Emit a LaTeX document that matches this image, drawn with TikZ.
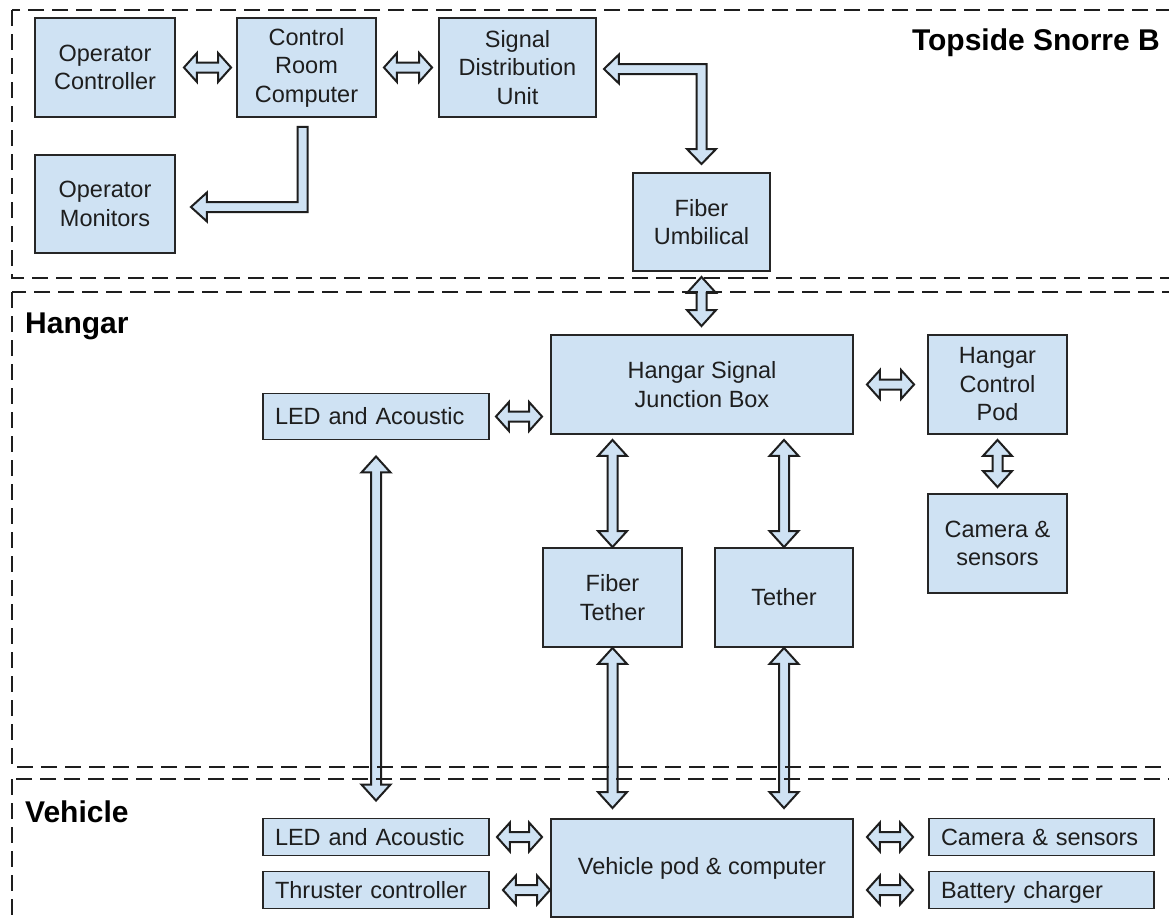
\documentclass[tikz,border=0pt]{standalone}
\usepackage{fontspec}
\setmainfont{Liberation Sans}
\usetikzlibrary{calc}
\definecolor{boxfill}{HTML}{CFE2F3}
\definecolor{ink}{HTML}{1E1E1E}
\definecolor{edge}{HTML}{262626}

\tikzset{
  box/.style={draw=edge, line width=1.9pt, fill=boxfill, align=center, text=ink,
    font=\fontsize{23.5}{28.5}\selectfont, inner sep=2pt},
  bigbox/.style={box, minimum width=#1, minimum height=99pt},
  slim/.style={box, text width=#1-24pt, inner xsep=12pt, align=left, minimum height=37pt,
    text height=18pt, text depth=1.5pt},
  region/.style={draw=ink, line width=2pt, dash pattern=on 16pt off 8pt},
  zone/.style={font=\bfseries\fontsize{30}{34}\selectfont, text=black, inner sep=0pt},
  blockarrow/.style={draw=ink, line width=2pt, fill=boxfill, line join=miter},
}

% horizontal double block arrow between a left tip and a right tip on one level
\newcommand\harrow[2]{%
  \coordinate (ta) at #1; \coordinate (tb) at #2;
  \filldraw[blockarrow] (ta) -- ($(ta)+(13,-14.5)$) -- ($(ta)+(13,-5)$)
    -- ($(tb)+(-13,-5)$) -- ($(tb)+(-13,-14.5)$) -- (tb)
    -- ($(tb)+(-13,14.5)$) -- ($(tb)+(-13,5)$) -- ($(ta)+(13,5)$)
    -- ($(ta)+(13,14.5)$) -- cycle;}
% vertical double block arrow between an upper tip and a lower tip
\newcommand\varrow[2]{%
  \coordinate (ta) at #1; \coordinate (tb) at #2;
  \filldraw[blockarrow] (ta) -- ($(ta)+(14.5,16)$) -- ($(ta)+(5,16)$)
    -- ($(tb)+(5,-16)$) -- ($(tb)+(14.5,-16)$) -- (tb)
    -- ($(tb)+(-14.5,-16)$) -- ($(tb)+(-5,-16)$) -- ($(ta)+(-5,16)$)
    -- ($(ta)+(-14.5,16)$) -- cycle;}

\begin{document}
\begin{tikzpicture}[x=1pt, y=-1pt]
\useasboundingbox (0,0) rectangle (1169,921);
\fill[white] (0,0) rectangle (1169,921);
\clip (0,0) rectangle (1169,921);

% ---------- topside ----------
\node[zone, anchor=base east] (topside) at (1160,50) {Topside Snorre B};
\node[bigbox=140pt] (oc)  at (105,67.5)   {Operator\\Controller};
\node[bigbox=139pt] (crc) at (306.5,67.5) {Control\\Room\\Computer};
\node[bigbox=157pt] (sdu) at (517.5,67.5) {Signal\\Distribution\\Unit};
\node[box, minimum width=140pt, minimum height=98pt] (om) at (105,204) {Operator\\Monitors};
\node[box, minimum width=137pt, minimum height=98pt] (fu) at (701.5,222) {Fiber\\Umbilical};

% ---------- hangar ----------
\node[zone, anchor=base west] (hangar) at (25,333) {Hangar};
\node[bigbox=302pt] (hsjb) at (702,384.5) {Hangar Signal\\Junction Box};
\node[bigbox=139pt] (hcp)  at (997.5,384.5) {Hangar\\Control\\Pod};
\node[bigbox=139pt] (hcam) at (997.5,543.5) {Camera \&\\sensors};
\node[slim=226pt, minimum height=46pt] (hled) at (376,416.5) {LED and Acoustic};
\node[bigbox=139pt] (ft)   at (612.5,597.5) {Fiber\\Tether};
\node[bigbox=138pt] (teth) at (784,597.5) {Tether};

% ---------- vehicle ----------
\node[zone, anchor=base west] (vehicle) at (25,822) {Vehicle};
\node[box, minimum width=302pt, minimum height=98pt] (vp) at (702,868) {Vehicle pod \& computer};
\node[slim=226pt] (vled) at (376,837)    {LED and Acoustic};
\node[slim=226pt] (thr)  at (376,890)    {Thruster controller};
\node[slim=225pt] (vcam) at (1041.5,837) {Camera \& sensors};
\node[slim=225pt] (bat)  at (1041.5,890) {Battery charger};

% ---------- block arrows ----------
\harrow{($(oc.east)+(8,0)$)}{($(crc.west)+(-5,0)$)}
\harrow{($(crc.east)+(7,0)$)}{($(sdu.west)+(-6,0)$)}

% control room computer down and across to the monitors
\coordinate (c1) at ($(crc.south)+(-4,9)$);
\coordinate (c3) at ($(om.east)+(15,3)$);
\coordinate (c2) at (c1 |- c3);
\filldraw[blockarrow] ($(c1)+(-5,0)$) -- ($(c1)+(5,0)$) -- ($(c2)+(5,5)$)
  -- ($(c3)+(16,5)$) -- ($(c3)+(16,14.5)$) -- (c3) -- ($(c3)+(16,-14.5)$)
  -- ($(c3)+(16,-5)$) -- ($(c2)+(-5,-5)$) -- cycle;

% signal distribution unit across and down to the umbilical
\coordinate (s1) at ($(sdu.east)+(7,1.5)$);
\coordinate (s3) at ($(fu.north)+(0,-8)$);
\coordinate (s2) at (s1 -| s3);
\filldraw[blockarrow] (s1) -- ($(s1)+(15,-14.5)$) -- ($(s1)+(15,-5)$)
  -- ($(s2)+(5,-5)$) -- ($(s3)+(5,-15)$) -- ($(s3)+(14.5,-15)$) -- (s3)
  -- ($(s3)+(-14.5,-15)$) -- ($(s3)+(-5,-15)$) -- ($(s2)+(-5,5)$)
  -- ($(s1)+(15,5)$) -- ($(s1)+(15,14.5)$) -- cycle;

\varrow{($(fu.south)+(0,5)$)}{($(hsjb.north -| fu.south)+(0,-8)$)}
\harrow{($(hled.east)+(6,0)$)}{($(hled.east -| hsjb.west)+(-8,0)$)}
\harrow{($(hsjb.east)+(13,0)$)}{($(hcp.west)+(-13,0)$)}
\varrow{($(hcp.south)+(0,5)$)}{($(hcam.north)+(0,-6)$)}
\varrow{($(hsjb.south -| ft.north)+(0,5)$)}{(ft.north)}
\varrow{($(hsjb.south -| teth.north)+(0,5)$)}{(teth.north)}
\varrow{(ft.south)}{($(vp.north -| ft.south)+(0,-10)$)}
\varrow{(teth.south)}{($(vp.north -| teth.south)+(0,-10)$)}
\varrow{($(hled.south)+(0,16)$)}{($(vled.north)+(0,-17)$)}

\harrow{($(vled.east)+(7,0)$)}{($(vled.east -| vp.west)+(-8,0)$)}
\harrow{($(thr.east)+(13,0)$)}{(thr.east -| vp.west)}
\harrow{($(vcam.west -| vp.east)+(13,0)$)}{($(vcam.west)+(-15,0)$)}
\harrow{($(bat.west -| vp.east)+(13,0)$)}{($(bat.west)+(-15,0)$)}

% ---------- dashed zones ----------
\draw[region] (12,10) rectangle (1200,278);
\draw[region] (12,292) rectangle (1200,767);
\draw[region] (12,779) rectangle (1200,945);
\end{tikzpicture}
\end{document}
